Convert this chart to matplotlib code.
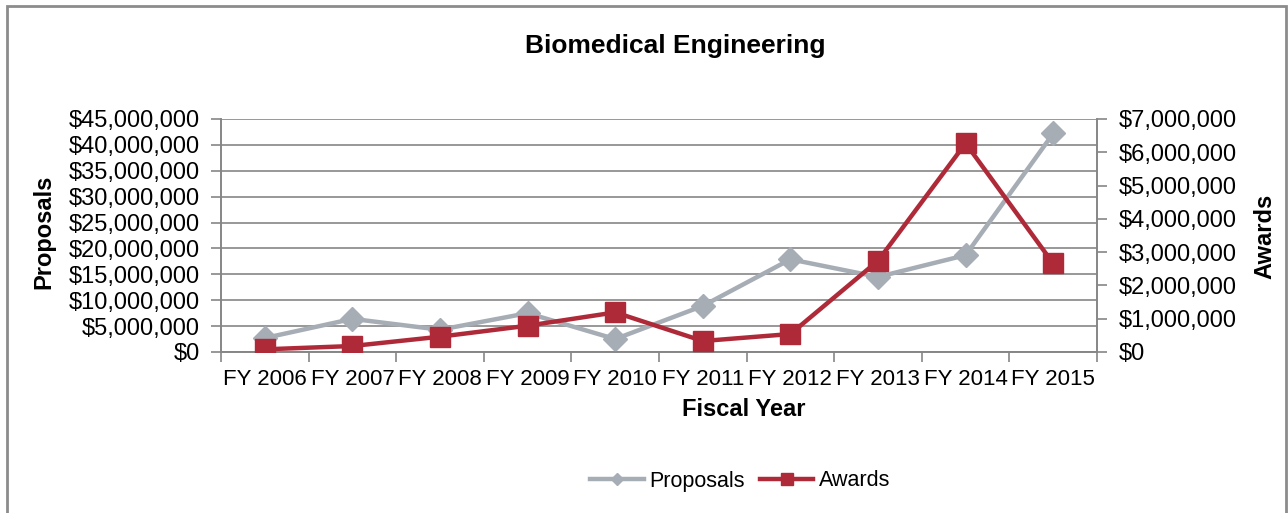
import matplotlib
matplotlib.use("Agg")
import matplotlib.pyplot as plt
from matplotlib.lines import Line2D
from matplotlib.patches import Rectangle
from matplotlib.ticker import FuncFormatter, MultipleLocator, FixedLocator

plt.rcParams['font.family'] = ['Liberation Sans', 'DejaVu Sans']

years = ['FY 2006', 'FY 2007', 'FY 2008', 'FY 2009', 'FY 2010',
         'FY 2011', 'FY 2012', 'FY 2013', 'FY 2014', 'FY 2015']
proposals = [2.7e6, 6.4e6, 4.3e6, 7.5e6, 2.5e6, 8.9e6, 17.9e6, 14.5e6, 18.7e6, 42.2e6]
awards = [0.08e6, 0.18e6, 0.46e6, 0.79e6, 1.19e6, 0.33e6, 0.54e6, 2.74e6, 6.27e6, 2.66e6]

gray = '#A6ADB5'
red = '#AF2A38'
axis_col = '#868686'

W, H = 1288, 513
fig = plt.figure(figsize=(W / 100, H / 100), dpi=100)
ax1 = fig.add_axes([221 / W, 1 - 352 / H, 876 / W, 233 / H])
ax2 = ax1.twinx()

x = list(range(len(years)))
ax1.plot(x, proposals, color=gray, lw=3.2, marker='D', ms=12, zorder=3)
ax2.plot(x, awards, color=red, lw=3.2, marker='s', ms=14, zorder=3)

money = FuncFormatter(lambda v, p: '${:,.0f}'.format(v))
ax1.set_ylim(0, 45e6)
ax1.yaxis.set_major_locator(MultipleLocator(5e6))
ax1.yaxis.set_major_formatter(money)
ax2.set_ylim(0, 7e6)
ax2.yaxis.set_major_locator(MultipleLocator(1e6))
ax2.yaxis.set_major_formatter(money)

ax1.set_xlim(-0.5, len(years) - 0.5)
ax1.set_xticks(x)
ax1.set_xticklabels(years)
ax1.xaxis.set_minor_locator(FixedLocator([i - 0.5 for i in range(len(years) + 1)]))
ax1.tick_params(axis='x', which='major', length=0, pad=12, labelsize=16)
ax1.tick_params(axis='x', which='minor', length=7, width=1.2, color=axis_col, direction='out')
ax1.tick_params(axis='y', length=7, width=1.2, color=axis_col, pad=8, labelsize=17)
ax2.tick_params(axis='y', length=7, width=1.2, color=axis_col, pad=9, labelsize=17)

ax1.grid(axis='y', color=axis_col, lw=1.2)
ax1.set_axisbelow(True)
for a in (ax1, ax2):
    a.spines['top'].set_visible(False)
    for s in ('left', 'right', 'bottom'):
        a.spines[s].set_color(axis_col)
        a.spines[s].set_linewidth(1.2)

ax1.set_ylabel('Proposals', fontsize=17, fontweight='bold', va='center', ha='center')
ax1.yaxis.set_label_coords((44 - 221) / 876, (352 - 232) / 233)
ax2.set_ylabel('Awards', fontsize=17, fontweight='bold', va='center', ha='center')
ax2.yaxis.set_label_coords((1265 - 221) / 876, (352 - 236) / 233)
ax1.set_xlabel('Fiscal Year', fontsize=17, fontweight='bold', va='center', ha='center')
ax1.xaxis.set_label_coords((744 - 221) / 876, (352 - 410) / 233)

fig.text(675 / W, 1 - 46 / H, 'Biomedical Engineering', fontsize=19,
         fontweight='bold', ha='center', va='center')

handles = [Line2D([], [], color=gray, lw=3.2, marker='D', ms=6),
           Line2D([], [], color=red, lw=3.2, marker='s', ms=8)]
fig.legend(handles, ['Proposals', 'Awards'], loc='center',
           bbox_to_anchor=(740 / W, 1 - 481 / H), ncol=2, frameon=False,
           fontsize=15.5, handlelength=2.5, handletextpad=0.25, columnspacing=0.7)

fig.patches.append(Rectangle((7 / W, -0.1), (1286 - 7) / W, (H - 6) / H + 0.1,
                             transform=fig.transFigure, fill=False,
                             edgecolor='#8c8c8c', lw=2))

fig.savefig('out.png', dpi=100)
